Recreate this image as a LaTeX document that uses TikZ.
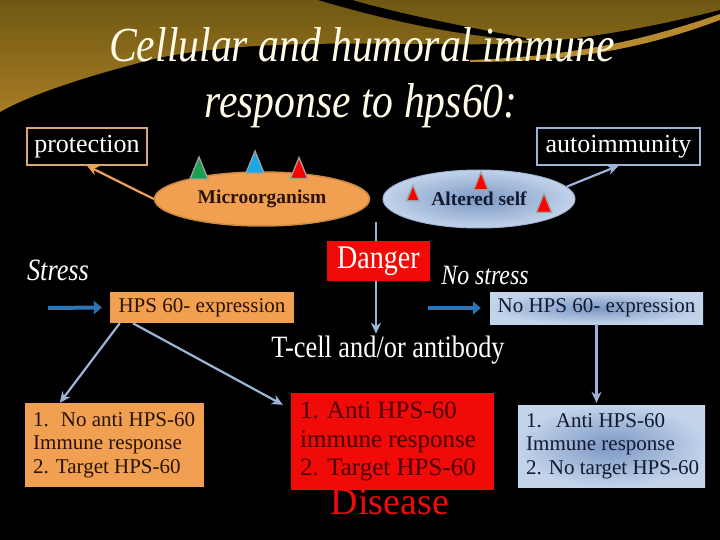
\documentclass[tikz,border=0pt]{standalone}
\usepackage{fontspec}
\setmainfont{Liberation Serif}
\newfontfamily\gab{Liberation Serif}[FakeStretch=0.85]
\usetikzlibrary{arrows.meta,shapes.geometric,calc}
\definecolor{goldA}{HTML}{6E5812}
\definecolor{goldB}{HTML}{A87C24}
\definecolor{goldL}{HTML}{B88A30}
\definecolor{orng}{HTML}{F0A050}
\definecolor{orngd}{HTML}{C98A42}
\definecolor{tanb}{HTML}{D9A870}
\definecolor{lblue}{HTML}{9DB4D6}
\definecolor{bluein}{HTML}{7B98C4}
\definecolor{blueout}{HTML}{C2D3EA}
\definecolor{arrblue}{HTML}{2E75B6}
\definecolor{dred}{HTML}{F00A08}
\definecolor{txtbrown}{HTML}{2A1206}
\definecolor{txtnavy}{HTML}{121A30}
\definecolor{txtred}{HTML}{4A0000}
\definecolor{titlecol}{HTML}{FFFBE6}
\definecolor{agreen}{HTML}{1AA050}
\definecolor{ablue}{HTML}{18A8E8}
\tikzset{
  tagbox/.style={draw, line width=1.5pt, fill=black, text=white, font=\fontsize{26}{28}\selectfont,
    minimum height=37pt, inner sep=0pt},
  lbarrow/.style={draw=lblue, line width=2.2pt, -{Stealth[length=11pt,width=10pt]}},
  orarrow/.style={draw=orng, line width=2.2pt, -{Stealth[length=11pt,width=10pt]}},
  bigarrow/.style={draw=arrblue, line width=4pt, -{Triangle[length=8pt,width=13pt]}},
  blueshade/.style={inner color=bluein, outer color=blueout},
  tri/.pic={\filldraw[draw=gray!75, line width=1.3pt] (-9,11) -- (0,-11) -- (9,11) -- cycle;},
  hand/.style={text=white, inner sep=0pt},
  listtext/.style={align=left, inner sep=0pt, anchor=west},
}
\begin{document}
\begin{tikzpicture}[x=1pt,y=-1pt]
\useasboundingbox (0,0) rectangle (720,540);
\fill[black] (0,0) rectangle (720,540);
% golden swoosh
\shade[top color=goldA, bottom color=goldB]
  (0,0) -- (720,0) -- (720,10) .. controls (640,30) and (570,42) .. (500,44)
  .. controls (400,46) and (250,36) .. (150,60) .. controls (80,78) and (30,95) .. (0,112) -- cycle;
\fill[black] (318,0) .. controls (400,24) and (470,38) .. (548,42)
  .. controls (470,28) and (400,14) .. (352,0) -- cycle;
\fill[goldL] (470,60) .. controls (580,56) and (650,38) .. (720,14) -- (720,20)
  .. controls (650,46) and (580,62) .. (470,62) -- cycle;
% title
\node[hand, text=titlecol, anchor=base, font=\gab\itshape\fontsize{49}{50}\selectfont] (t1) at (362,62) {Cellular and humoral immune};
\node[hand, text=titlecol, anchor=base, font=\gab\itshape\fontsize{49}{50}\selectfont] (t2) at (361,118) {response to hps60:};
% top boxes
\node[tagbox, draw=tanb, minimum width=120pt] (prot) at (87,146.5) {protection};
\node[tagbox, draw=lblue, minimum width=163pt] (auto) at (618.5,146.5) {autoimmunity};
% ellipses
\node[ellipse, fill=orng, draw=orngd, line width=1.5pt, minimum width=215pt, minimum height=54pt, inner sep=0pt,
  text=txtbrown, font=\bfseries\fontsize{19.5}{21}\selectfont] (micro) at (262,199) {Microorganism};
\node[ellipse, blueshade, draw=lblue, line width=1pt, minimum width=192pt, minimum height=58pt, inner sep=0pt,
  text=txtnavy, font=\bfseries\fontsize{19.5}{21}\selectfont] (alt) at (479,199) {Altered self};
% antigens
\pic[fill=agreen] at (199,168) {tri};
\pic[fill=ablue] at (255,162) {tri};
\pic[fill=red, scale=0.95] at (299,168) {tri};
\pic[fill=red, scale=0.7] at (413,193) {tri};
\pic[fill=red, scale=0.8] at (481,181) {tri};
\pic[fill=red, scale=0.85] at (544,203) {tri};
\draw[orarrow] (micro.west) -- (prot.south);
\draw[lbarrow] (alt.8) -- (auto.south);
% vertical arrow behind Danger
\coordinate (vtop) at (376,222);
\node[hand, font=\gab\fontsize{31}{34}\selectfont, inner sep=2pt] (tcell) at (388,350) {T-cell and/or antibody};
\draw[lbarrow] (vtop) -- (vtop |- tcell.north);
\node[fill=dred, text=white, minimum width=103pt, minimum height=40pt, inner sep=0pt,
  font=\gab\fontsize{33}{36}\selectfont] (danger) at (378.5,261) {Danger};
\node[hand, font=\gab\itshape\fontsize{31}{34}\selectfont] (stress) at (58,270) {Stress};
\node[hand, font=\gab\itshape\fontsize{28}{32}\selectfont] (nostress) at (485,275) {No stress};
% expression boxes
\node[fill=orng, text=txtbrown, minimum width=184pt, minimum height=31pt, inner sep=0pt,
  font=\fontsize{21}{22}\selectfont] (hps) at (202,307.5) {HPS 60- expression};
\node[blueshade, text=txtnavy, minimum width=213pt, minimum height=32pt, inner sep=0pt,
  font=\fontsize{21}{22}\selectfont] (nohps) at (596.5,308) {No HPS 60- expression};
\coordinate (s1) at (48,308);
\coordinate (s2) at (428,308);
\draw[bigarrow] (s1) -- ([xshift=-8pt]hps.west);
\draw[bigarrow] (s2) -- ([xshift=-9pt]nohps.west);
% outcome boxes
\node[fill=orng, minimum width=179pt, minimum height=84pt, inner sep=0pt] (box1) at (114.5,445) {};
\node[listtext, text=txtbrown, font=\fontsize{21}{23.5}\selectfont] (box1t) at (33,445)
  {1.\hspace{12pt}No anti HPS-60\\Immune response\\2. Target HPS-60};
\node[fill=dred, minimum width=203pt, minimum height=97pt, inner sep=0pt] (box2) at (392.5,441.5) {};
\node[listtext, text=txtred, font=\fontsize{25}{28.5}\selectfont] (box2t) at (300,441.5)
  {1.\hspace{8pt}Anti HPS-60\\immune response\\2. Target HPS-60};
\node[blueshade, minimum width=187pt, minimum height=82pt, inner sep=0pt] (box3) at (611.5,446) {};
\node[listtext, text=txtnavy, font=\fontsize{21}{23.5}\selectfont] (box3t) at (526,446)
  {1.\hspace{14pt}Anti HPS-60\\Immune response\\2. No target HPS-60};
\draw[lbarrow] ([xshift=10pt]hps.south west) -- ([xshift=35pt]box1.north west);
\draw[lbarrow] ([xshift=23pt]hps.south west) -- ([xshift=-8pt,yshift=-12pt]box2.north west);
\draw[lbarrow, shorten >=2pt] (nohps.south) -- (nohps.south |- box3.north);
\node[text=dred, inner sep=0pt, font=\fontsize{38}{40}\selectfont] (disease) at (390,502) {Disease};
\end{tikzpicture}
\end{document}
